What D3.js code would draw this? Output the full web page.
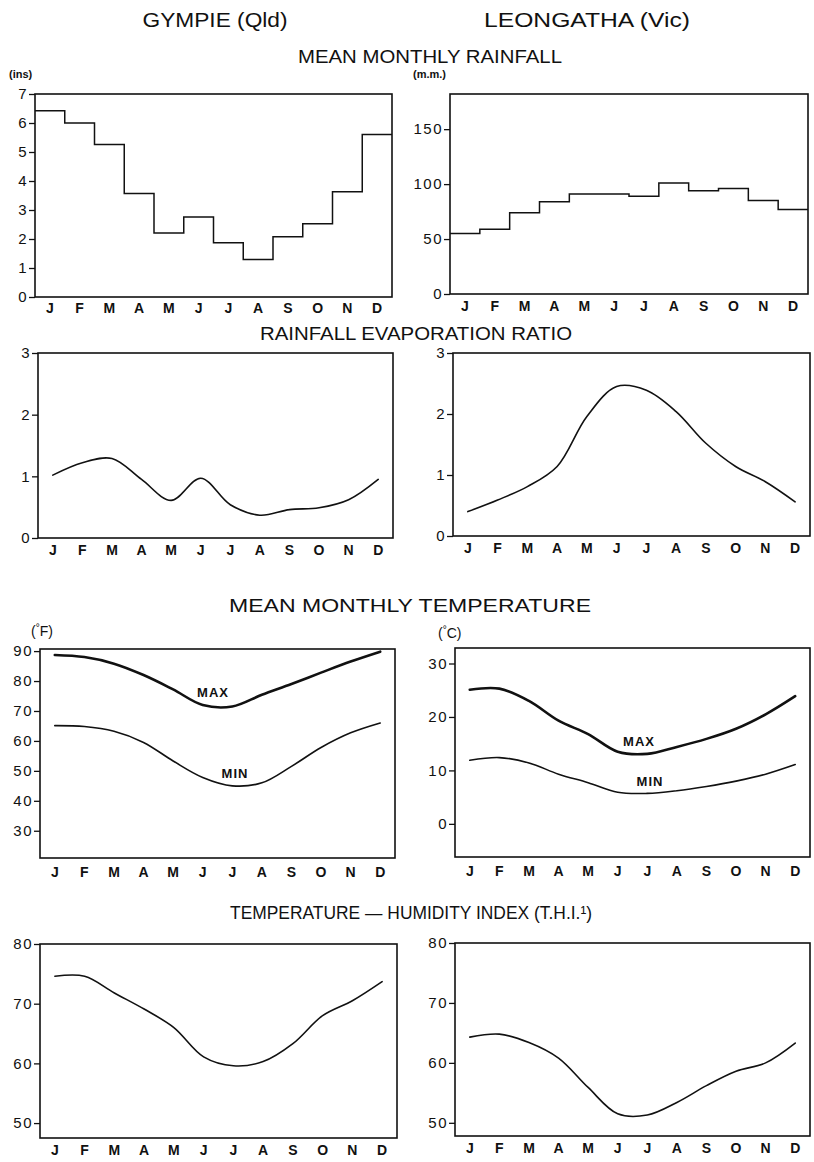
<!DOCTYPE html>
<html>
<head>
<meta charset="utf-8">
<script src="https://cdn.jsdelivr.net/npm/d3@7"></script>
<style>
  body { margin: 0; background: #fff; }
  svg { font-family: "Liberation Sans", Arial, sans-serif; }
</style>
</head>
<body>
<div id="chart"></div>
<script>
// Month letters along every x axis
const monthLabels = ['J', 'F', 'M', 'A', 'M', 'J', 'J', 'A', 'S', 'O', 'N', 'D'];

// Mean monthly rainfall
const gympieRain = [6.42, 6.0, 5.26, 3.57, 2.21, 2.76, 1.87, 1.29, 2.08, 2.53, 3.63, 5.6];     // inches
const leongathaRain = [55, 59, 74, 84, 91, 91, 89, 101, 94, 96, 85, 77];                      // mm

// Rainfall / evaporation ratio
const gympieRatio = [1.02, 1.22, 1.29, 0.95, 0.61, 0.97, 0.54, 0.37, 0.46, 0.49, 0.62, 0.95];
const leongathaRatio = [0.40, 0.59, 0.81, 1.14, 1.96, 2.45, 2.39, 2.04, 1.52, 1.14, 0.89, 0.56];

// Mean monthly temperature
const gympieMax = [88.7, 88.0, 85.8, 82.0, 77.2, 72.0, 71.5, 75.4, 79.0, 82.8, 86.5, 89.8];   // deg F
const gympieMin = [65.1, 64.8, 63.2, 59.5, 53.3, 47.8, 45.0, 46.0, 51.5, 57.8, 62.7, 66.0];
const leongathaMax = [25.1, 25.3, 23.0, 19.3, 16.8, 13.5, 13.1, 14.4, 15.9, 17.8, 20.5, 23.9]; // deg C
const leongathaMin = [11.9, 12.4, 11.4, 9.3, 7.7, 5.9, 5.7, 6.2, 7.0, 8.0, 9.3, 11.1];

// Temperature - humidity index
const gympieTHI = [74.6, 74.6, 71.8, 69.1, 66.0, 61.1, 59.6, 60.3, 63.3, 68.0, 70.5, 73.7];
const leongathaTHI = [64.3, 64.8, 63.4, 60.8, 55.9, 51.5, 51.3, 53.4, 56.2, 58.6, 60.0, 63.3];

// Tick values for each y axis
const rainInTicks = [0, 1, 2, 3, 4, 5, 6, 7];
const rainMmTicks = [0, 50, 100, 150];
const ratioTicks = [0, 1, 2, 3];
const tempFTicks = [30, 40, 50, 60, 70, 80, 90];
const tempCTicks = [0, 10, 20, 30];
const thiTicks = [50, 60, 70, 80];

const W = 814, H = 1162;
const ink = '#111';
const months = d3.range(12);

const svg = d3.select('#chart').append('svg')
    .attr('width', W)
    .attr('height', H);

// Draws one framed panel with its y ticks and month letters, returns scales
function panel(box, yDomain, yTicks, monthPad) {
    const x = d3.scaleBand().domain(months).range([box.left, box.right]).padding(0);
    const y = d3.scaleLinear().domain(yDomain).range([box.bottom, box.top]);
    const g = svg.append('g');

    // y axis
    g.append('g')
        .attr('transform', `translate(${box.left},0)`)
        .call(d3.axisLeft(y).tickValues(yTicks).tickSize(6).tickPadding(1).tickFormat(d => d))
        .call(a => a.select('.domain').remove())
        .call(a => a.selectAll('line').attr('stroke', ink).attr('stroke-width', 1.3))
        .call(a => a.selectAll('text')
            .attr('fill', ink)
            .style('font-size', '15px')
            .style('letter-spacing', '1.5px'));

    // month letters
    g.append('g')
        .attr('transform', `translate(0,${box.bottom})`)
        .call(d3.axisBottom(x).tickSize(0).tickPadding(monthPad).tickFormat(i => monthLabels[i]))
        .call(a => a.select('.domain').remove())
        .call(a => a.selectAll('text')
            .attr('fill', ink)
            .style('font-size', '14px')
            .style('font-weight', 'bold'));

    // frame
    g.append('rect')
        .attr('x', box.left)
        .attr('y', box.top)
        .attr('width', box.right - box.left)
        .attr('height', box.bottom - box.top)
        .attr('fill', 'none')
        .attr('stroke', ink)
        .attr('stroke-width', 1.6);

    return { x, y, g };
}

// Stepped outline for the rainfall panels
function stepLine(p, values) {
    const pts = values.map((v, i) => [p.x(i), p.y(v)]);
    pts.push([p.x(11) + p.x.bandwidth(), p.y(values[11])]);
    p.g.append('path')
        .attr('d', d3.line().curve(d3.curveStepAfter)(pts))
        .attr('fill', 'none')
        .attr('stroke', ink)
        .attr('stroke-width', 1.5);
}

// Smooth curve through the month centres
function smoothLine(p, values, width) {
    const line = d3.line()
        .x((d, i) => p.x(i) + p.x.bandwidth() / 2)
        .y(d => p.y(d))
        .curve(d3.curveCatmullRom.alpha(0.5));
    p.g.append('path')
        .attr('d', line(values))
        .attr('fill', 'none')
        .attr('stroke', ink)
        .attr('stroke-width', width)
        .attr('stroke-linejoin', 'round')
        .attr('stroke-linecap', 'round');
}

function label(txt, x, y, size, opts = {}) {
    const t = svg.append('text')
        .attr('x', x)
        .attr('y', y)
        .attr('text-anchor', opts.anchor || 'middle')
        .attr('fill', ink)
        .style('font-size', size + 'px')
        .text(txt);
    if (opts.length) t.attr('textLength', opts.length).attr('lengthAdjust', 'spacingAndGlyphs');
    if (opts.bold) t.style('font-weight', 'bold');
    if (opts.spacing) t.style('letter-spacing', opts.spacing + 'px');
    return t;
}

// Headings
label('GYMPIE (Qld)', 215, 27, 21, { length: 145 });
label('LEONGATHA (Vic)', 587, 27, 21, { length: 206 });
label('MEAN MONTHLY RAINFALL', 430, 63, 19, { length: 264 });
label('RAINFALL EVAPORATION RATIO', 416, 340, 19, { length: 312 });
label('MEAN MONTHLY TEMPERATURE', 410, 612, 19, { length: 362 });
label('TEMPERATURE \u2014 HUMIDITY INDEX (T.H.I.\u00B9)', 411, 919, 19, { length: 362 });

// Unit labels
label('(ins)', 9, 78, 11, { anchor: 'start', bold: true });
label('(m.m.)', 413, 78, 11, { anchor: 'start', bold: true });

// "(°F)" / "(°C)" with a raised degree sign
function degreeLabel(x, y, unit) {
    const t = svg.append('text')
        .attr('x', x).attr('y', y)
        .attr('fill', ink)
        .style('font-size', '14px');
    t.append('tspan').text('(');
    t.append('tspan').attr('dy', -5).style('font-size', '10px').text('\u00B0');
    t.append('tspan').attr('dy', 5).text(unit + ')');
}
degreeLabel(31, 636, 'F');
degreeLabel(438, 638, 'C');

// Row 1: rainfall
const p1 = panel({ left: 35, right: 392, top: 94, bottom: 297 }, [0, 7], rainInTicks, 6);
stepLine(p1, gympieRain);
const p2 = panel({ left: 450, right: 808, top: 94, bottom: 294 }, [0, 182], rainMmTicks, 7);
stepLine(p2, leongathaRain);

// Row 2: rainfall / evaporation ratio
const p3 = panel({ left: 38, right: 393, top: 353, bottom: 538 }, [0, 3.0], ratioTicks, 7);
smoothLine(p3, gympieRatio, 1.6);
const p4 = panel({ left: 453, right: 810, top: 353, bottom: 536 }, [0, 3.0], ratioTicks, 7);
smoothLine(p4, leongathaRatio, 1.6);

// Row 3: temperature
const p5 = panel({ left: 40, right: 395, top: 649, bottom: 858 }, [20.9, 90.7], tempFTicks, 9);
smoothLine(p5, gympieMax, 2.6);
smoothLine(p5, gympieMin, 1.6);
label('MAX', 213, 697, 13, { bold: true, spacing: 1 });
label('MIN', 235, 778, 13, { bold: true, spacing: 1 });

const p6 = panel({ left: 455, right: 810, top: 648, bottom: 857 }, [-6.2, 32.9], tempCTicks, 9);
smoothLine(p6, leongathaMax, 2.6);
smoothLine(p6, leongathaMin, 1.6);
label('MAX', 639, 746, 13, { bold: true, spacing: 1 });
label('MIN', 650, 786, 13, { bold: true, spacing: 1 });

// Row 4: temperature - humidity index
const p7 = panel({ left: 40, right: 397, top: 944, bottom: 1138 }, [47.5, 80], thiTicks, 7);
smoothLine(p7, gympieTHI, 1.6);
const p8 = panel({ left: 455, right: 810, top: 943, bottom: 1136 }, [47.8, 80], thiTicks, 7);
smoothLine(p8, leongathaTHI, 1.6);
</script>
</body>
</html>
